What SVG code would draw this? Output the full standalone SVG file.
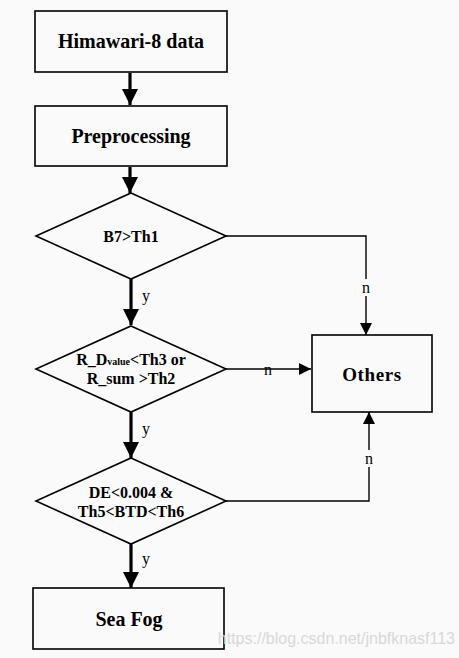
<svg xmlns="http://www.w3.org/2000/svg" width="459" height="658" viewBox="0 0 459 658">
<style>
.box{fill:none;stroke:#000;stroke-width:1.6}
.t{font-family:"Liberation Serif","Times New Roman",serif;font-weight:bold;fill:#000;text-anchor:middle}
.lbl{font-family:"Liberation Serif","Times New Roman",serif;font-size:16px;fill:#000;text-anchor:middle}
.thick{stroke:#000;stroke-width:3.2;fill:none}
.thin{stroke:#000;stroke-width:1.4;fill:none}
</style>
<defs>
<marker id="big" markerUnits="userSpaceOnUse" markerWidth="16" markerHeight="16" viewBox="0 0 16 16" refX="16" refY="8" orient="auto">
<path d="M0,0 L16,8 L0,16 Z" fill="#000"/>
</marker>
<marker id="small" markerUnits="userSpaceOnUse" markerWidth="12" markerHeight="12" viewBox="0 0 12 12" refX="12" refY="6" orient="auto">
<path d="M0,0 L12,6 L0,12 Z" fill="#000"/>
</marker>
</defs>
<rect width="459" height="658" fill="#fafafa"/>
<g id="connectors">
<line class="thick" x1="130" y1="73" x2="130" y2="105" marker-end="url(#big)"/>
<line class="thick" x1="130" y1="167" x2="130" y2="193" marker-end="url(#big)"/>
<line class="thick" x1="131" y1="279" x2="131" y2="325" marker-end="url(#big)"/>
<line class="thick" x1="131" y1="412" x2="131" y2="458" marker-end="url(#big)"/>
<line class="thick" x1="131" y1="544" x2="131" y2="588" marker-end="url(#big)"/>
<polyline class="thin" points="226,236 366,236 366,335" marker-end="url(#small)"/>
<line class="thin" x1="226" y1="369" x2="311" y2="369" marker-end="url(#small)"/>
<polyline class="thin" points="226,501 369,501 369,412" marker-end="url(#small)"/>
<rect x="360" y="279" width="13" height="17" fill="#fafafa"/>
<rect x="363" y="450" width="13" height="17" fill="#fafafa"/>
<text class="lbl" x="366" y="293">n</text>
<text class="lbl" x="268" y="375">n</text>
<text class="lbl" x="369" y="464">n</text>
<text class="lbl" x="146" y="301">y</text>
<text class="lbl" x="146" y="434">y</text>
<text class="lbl" x="146" y="564">y</text>
</g>
<g id="himawari">
<rect class="box" x="35" y="11" width="192" height="61"/>
<text class="t" x="131" y="48" font-size="20">Himawari-8 data</text>
</g>
<g id="preprocessing">
<rect class="box" x="35" y="106" width="192" height="60"/>
<text class="t" x="131" y="143" font-size="20">Preprocessing</text>
</g>
<g id="b7">
<polygon class="box" points="131,193 226,236 131,279 36,236"/>
<text class="t" x="131" y="242" font-size="16">B7&gt;Th1</text>
</g>
<g id="rd">
<polygon class="box" points="131,326 226,369 131,412 36,369"/>
<text class="t" x="131" y="365" font-size="16">R_D<tspan font-size="10">value</tspan>&lt;Th3 or</text>
<text class="t" x="131" y="384" font-size="16">R_sum &gt;Th2</text>
</g>
<g id="de">
<polygon class="box" points="131,458 226,501 131,544 36,501"/>
<text class="t" x="131" y="498" font-size="16">DE&lt;0.004 &amp;</text>
<text class="t" x="131" y="517" font-size="16">Th5&lt;BTD&lt;Th6</text>
</g>
<g id="others">
<rect class="box" x="312" y="335" width="120" height="77"/>
<text class="t" x="372" y="381" font-size="19" letter-spacing="0.6">Others</text>
</g>
<g id="seafog">
<rect class="box" x="33" y="588" width="191" height="61"/>
<text class="t" x="129" y="626" font-size="20">Sea Fog</text>
</g>
<text x="455" y="644" font-family="Liberation Sans, Arial, sans-serif" font-size="16" fill="#d8d8d8" text-anchor="end">https://blog.csdn.net/jnbfknasf113</text>
</svg>
